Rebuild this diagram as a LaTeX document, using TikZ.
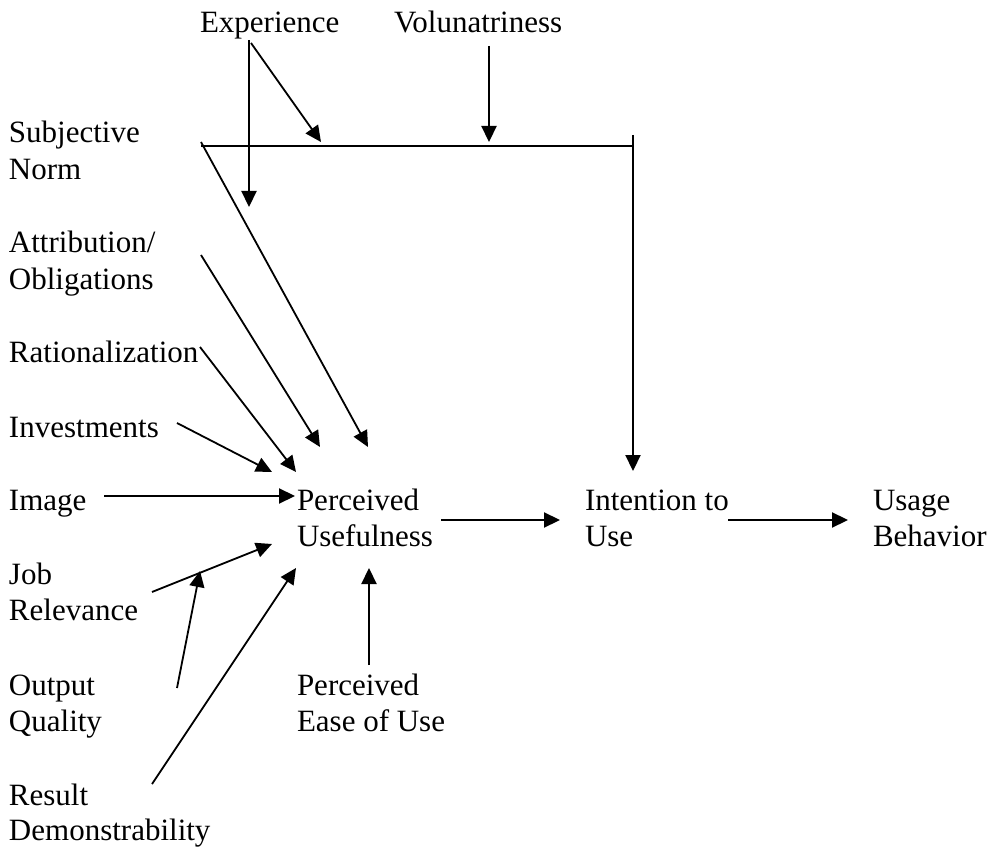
\documentclass[tikz,border=0pt]{standalone}
\usepackage{fontspec}
\setmainfont{Liberation Serif}
\usetikzlibrary{arrows.meta}
\newcommand{\mytwo}[2]{\begin{tabular}[t]{@{}l@{}}#1\\#2\end{tabular}}
\begin{document}
\begin{tikzpicture}[x=1pt,y=-1pt,
  lbl/.style={anchor=base west,inner sep=0pt,outer sep=0pt,font=\fontsize{31}{36.8}\selectfont},
  arr/.style={line width=2.2pt,-{Triangle[length=16pt,width=15pt]}},
  diag/.style={arr,line width=1.8pt},
  thin line/.style={line width=1.5pt}]
\useasboundingbox (0,0) rectangle (994,850);
% labels
\node[lbl] (exp) at (200,33) {Experience};
\node[lbl] (vol) at (394,33) {Volunatriness};
\node[lbl] (sn) at (9,143) {\mytwo{Subjective}{Norm}};
\node[lbl] (att) at (9,253) {\mytwo{Attribution/}{Obligations}};
\node[lbl] (rat) at (9,363) {Rationalization};
\node[lbl] (inv) at (9,437) {Investments};
\node[lbl] (img) at (9,510) {Image};
\node[lbl] (job) at (9,584) {\mytwo{Job}{Relevance}};
\node[lbl] (out) at (9,695) {\mytwo{Output}{Quality}};
\node[lbl] (res) at (9,805) {\begin{tabular}[t]{@{}l@{}}Result\\[-1.5pt]Demonstrability\end{tabular}};
\node[lbl] (pu) at (297,510) {\mytwo{Perceived}{Usefulness}};
\node[lbl] (peou) at (297,695) {\mytwo{Perceived}{Ease of Use}};
\node[lbl] (iu) at (585,510) {\mytwo{Intention to}{Use}};
\node[lbl] (ub) at (873,510) {\mytwo{Usage}{Behavior}};
% connector end points
\coordinate (expS) at (249,40);
\coordinate (expD) at (249,207);
\coordinate (expS2) at (251,43);
\coordinate (expT) at (321,142);
\coordinate (volS) at (489,46);
\coordinate (volT) at (489,142);
\coordinate (hL) at (201,146);
\coordinate (hR) at (633,146);
\coordinate (vTop) at (633,135);
\coordinate (iuT) at (633,471);
\coordinate (snS) at (201,142);
\coordinate (snT) at (368,447);
\coordinate (attS) at (201,255);
\coordinate (attT) at (320,447);
\coordinate (ratS) at (200,347);
\coordinate (ratT) at (296,472);
\coordinate (invS) at (177,423);
\coordinate (invT) at (272,472);
\coordinate (imgS) at (104,496);
\coordinate (imgT) at (295,496);
\coordinate (jobS) at (152,592);
\coordinate (jobT) at (272,544);
\coordinate (outS) at (177,688);
\coordinate (outT) at (200,571);
\coordinate (resS) at (152,784);
\coordinate (resT) at (296,568);
\coordinate (peouS) at (369,665);
\coordinate (peouT) at (369,568);
\coordinate (puS) at (441,520);
\coordinate (puT) at (560,520);
\coordinate (iuS) at (728,520);
\coordinate (iuT2) at (848,520);
% connectors
\draw[arr] (expS) -- (expD);
\draw[diag] (expS2) -- (expT);
\draw[arr] (volS) -- (volT);
\draw[thin line] (hL) -- (hR);
\draw[arr] (vTop) -- (iuT);
\draw[diag] (snS) -- (snT);
\draw[diag] (attS) -- (attT);
\draw[diag] (ratS) -- (ratT);
\draw[diag] (invS) -- (invT);
\draw[arr] (imgS) -- (imgT);
\draw[diag] (jobS) -- (jobT);
\draw[diag] (outS) -- (outT);
\draw[diag] (resS) -- (resT);
\draw[arr] (peouS) -- (peouT);
\draw[arr] (puS) -- (puT);
\draw[arr] (iuS) -- (iuT2);
\end{tikzpicture}
\end{document}
